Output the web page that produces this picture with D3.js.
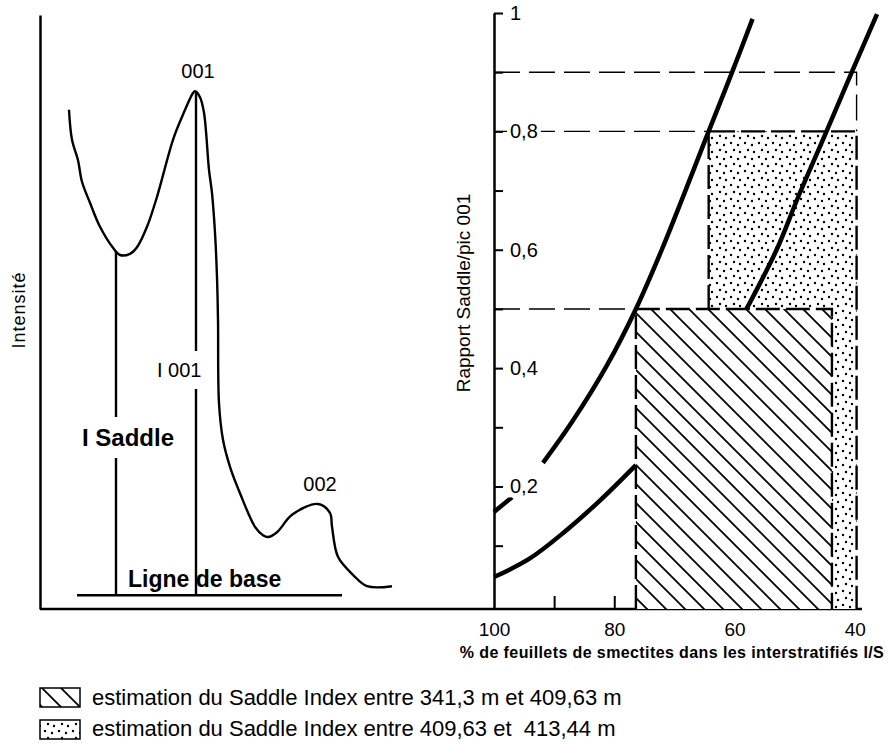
<!DOCTYPE html>
<html>
<head>
<meta charset="utf-8">
<script src="https://cdn.jsdelivr.net/npm/d3@7"></script>
<style>
  body { margin: 0; background: #fff; }
  svg { display: block; font-family: "Liberation Sans", Arial, sans-serif; }
</style>
</head>
<body>
<div id="chart"></div>
<script>
'use strict';

// diffractogramme schematique (panneau gauche), unites arbitraires
var patternPos = [7.25, 8, 9.5, 10.5, 12.5, 15, 18.25, 20, 22.5, 24.25,
                  26.75, 29.25, 33.25, 35.5, 38.25, 38.75, 40, 41, 42.25, 43,
                  43.75, 44.25, 44.5, 44.75, 45.75, 47.5, 50, 53.75, 55.75, 57,
                  59.25, 63, 69.5, 72.5, 73, 74.5, 78.25, 81.75, 88];
var patternInt = [83.2, 78.2, 74.8, 71.2, 67.7, 63.7, 60.2, 59, 59.2, 60.3,
                  63.7, 68.7, 78.2, 82, 86, 86.3, 85.3, 82.7, 73.2, 69.3,
                  62.7, 55.3, 48.2, 34.3, 28.2, 23.7, 19.3, 13.7, 12.3, 12,
                  12.8, 15.7, 17.5, 16, 13.7, 8.7, 5.7, 3.8, 3.8];
var peakNames = ['001', '002'];
var peakPos = [39, 69.5];
var peakInt = [86.3, 17.5];
var saddlePos = 19, saddleInt = 59.5;
var baseFrom = 9.25, baseTo = 75.5, baseInt = 2.3;

// abaque (panneau droit)
var smectiteTicks = [100, 80, 60, 40];
var smectiteMinor = [90, 80];
var ratioTicks = [0.1, 0.2, 0.3, 0.4, 0.5, 0.6, 0.7, 0.8, 0.9, 1];
var curveAx = [100, 97, null, 91.85, 86.9, 81.2, 76.4, 72.1, 64.3, 60.4, 57];
var curveAy = [0.157, 0.182, null, 0.24, 0.311, 0.405, 0.5, 0.6, 0.8, 0.9, 0.99];
var curveBx = [100, 94.1, 88.2, 82.3, 76.4];
var curveBy = [0.047, 0.078, 0.124, 0.177, 0.236];
var curveCx = [58, 53, 49.5, 44.7, 40.5, 36.3];
var curveCy = [0.5, 0.6, 0.687, 0.8, 0.9, 0.998];

// estimations : [hachures, pointilles]
var rangeLabels = ['estimation du Saddle Index entre 341,3 m et 409,63 m',
                   'estimation du Saddle Index entre 409,63 et  413,44 m'];
var rangeFrom = [76.4, 64.3];
var rangeTo = [43.8, 39.7];
var rangeRatio = [0.5, 0.8];
var topRatio = 0.9;

var width = 888, height = 744;

var svg = d3.select('#chart').append('svg')
    .attr('width', width)
    .attr('height', height);

var defs = svg.append('defs');
defs.append('pattern')
    .attr('id', 'hatch')
    .attr('patternUnits', 'userSpaceOnUse')
    .attr('width', 19).attr('height', 19)
  .append('path')
    .attr('d', 'M-2,-2L21,21M-2,17L2,21M17,-2L21,2')
    .attr('stroke', '#000')
    .attr('stroke-width', 1.8);

var dots = defs.append('pattern')
    .attr('id', 'dots')
    .attr('patternUnits', 'userSpaceOnUse')
    .attr('width', 14).attr('height', 14);
dots.append('rect').attr('width', 14).attr('height', 14).attr('fill', '#fff');
[[3, 3], [10, 5], [6, 10], [12, 12]].forEach(function (p) {
  dots.append('circle').attr('cx', p[0]).attr('cy', p[1]).attr('r', 1.2).attr('fill', '#000');
});

var xL = d3.scaleLinear().domain([0, 100]).range([40, 440]);
var yL = d3.scaleLinear().domain([0, 99]).range([609, 15]);
var xR = d3.scaleLinear().domain([100, 38.8]).range([494, 862]);
var yR = d3.scaleLinear().domain([-0.007, 1]).range([609, 13]);
var baseY = yR.range()[0];

function bgRect(sel, px, py) {
  sel.each(function () {
    var node = this, b = node.getBBox();
    d3.select(node.parentNode).insert('rect', function () { return node; })
        .attr('x', b.x - px).attr('y', b.y - py)
        .attr('width', b.width + 2 * px).attr('height', b.height + 2 * py)
        .attr('fill', '#fff');
  });
}

// ---------- panneau gauche ----------
var left = svg.append('g');

left.append('g')
    .attr('transform', 'translate(' + xL(0) + ',0)')
    .call(d3.axisLeft(yL).ticks(0).tickSizeOuter(0))
    .select('.domain').attr('stroke-width', 2.5);

left.append('path')
    .datum(d3.zip(patternPos, patternInt))
    .attr('fill', 'none')
    .attr('stroke', '#000')
    .attr('stroke-width', 2.4)
    .attr('stroke-linejoin', 'round')
    .attr('d', d3.line()
        .x(function (d) { return xL(d[0]); })
        .y(function (d) { return yL(d[1]); })
        .curve(d3.curveCatmullRom.alpha(0.5)));

var vlines = left.append('g')
    .attr('stroke', '#000')
    .attr('stroke-width', 2.4);
vlines.append('line')
    .attr('x1', xL(saddlePos)).attr('x2', xL(saddlePos))
    .attr('y1', yL(saddleInt)).attr('y2', yL(baseInt));
vlines.append('line')
    .attr('x1', xL(peakPos[0])).attr('x2', xL(peakPos[0]))
    .attr('y1', yL(peakInt[0])).attr('y2', yL(baseInt));
vlines.append('line')
    .attr('x1', xL(baseFrom)).attr('x2', xL(baseTo))
    .attr('y1', yL(baseInt)).attr('y2', yL(baseInt));

left.selectAll('.peak')
    .data(peakNames)
  .enter().append('text')
    .attr('class', 'peak')
    .attr('x', function (d, i) { return xL(peakPos[i]) + 2; })
    .attr('y', function (d, i) { return yL(peakInt[i]) - 13; })
    .attr('text-anchor', 'middle')
    .style('font-size', '20px')
    .text(function (d) { return d; });

var lblSaddle = left.append('text')
    .attr('x', 82).attr('y', 446)
    .style('font-size', '24px')
    .style('font-weight', 'bold')
    .text('I Saddle');
bgRect(lblSaddle, 2, 7);

var lbl001 = left.append('text')
    .attr('x', 157).attr('y', 377)
    .style('font-size', '20px')
    .text('I 001');
bgRect(lbl001, 2, 8);

left.append('text')
    .attr('x', 128).attr('y', 587)
    .style('font-size', '23px')
    .style('font-weight', 'bold')
    .text('Ligne de base');

left.append('text')
    .attr('transform', 'translate(19,310) rotate(-90)')
    .attr('text-anchor', 'middle')
    .attr('dy', '0.35em')
    .style('font-size', '18px')
    .style('letter-spacing', '1px')
    .text('Intensité');

// ligne de base commune
svg.append('line')
    .attr('x1', xL(0)).attr('x2', xR.range()[1])
    .attr('y1', baseY).attr('y2', baseY)
    .attr('stroke', '#000')
    .attr('stroke-width', 2.5);

// ---------- panneau droit ----------
var right = svg.append('g');

// zones d'estimation : pointilles d'abord, hachures par-dessus
[1, 0].forEach(function (i) {
  var x0 = xR(rangeFrom[i]), x1 = xR(rangeTo[i]), y0 = yR(rangeRatio[i]);
  var g = right.append('g');
  g.append('rect')
      .attr('x', x0).attr('y', y0)
      .attr('width', x1 - x0).attr('height', baseY - y0)
      .attr('fill', '#fff');
  g.append('rect')
      .attr('x', x0).attr('y', y0)
      .attr('width', x1 - x0).attr('height', baseY - y0)
      .attr('fill', i === 0 ? 'url(#hatch)' : 'url(#dots)');
  g.append('path')
      .attr('d', 'M' + x0 + ',' + baseY + 'V' + y0 + 'H' + x1 + 'V' + baseY)
      .attr('fill', 'none')
      .attr('stroke', '#000')
      .attr('stroke-width', 2.4)
      .attr('stroke-dasharray', '24,6');
});

// lignes de lecture
var guides = right.append('g')
    .attr('fill', 'none')
    .attr('stroke', '#000')
    .attr('stroke-width', 1.4)
    .attr('stroke-dasharray', '26,9');
rangeRatio.forEach(function (r, i) {
  guides.append('path')
      .attr('d', 'M' + xR(100) + ',' + yR(r) + 'H' + xR(rangeFrom[i]));
});
guides.append('path')
    .attr('d', 'M' + xR(100) + ',' + yR(topRatio) + 'H' + xR(rangeTo[1]) + 'V' + yR(rangeRatio[1]));

var curve = d3.line()
    .defined(function (d) { return d[0] != null; })
    .x(function (d) { return xR(d[0]); })
    .y(function (d) { return yR(d[1]); })
    .curve(d3.curveCatmullRom.alpha(0.5));

right.selectAll('.curve')
    .data([d3.zip(curveAx, curveAy), d3.zip(curveBx, curveBy), d3.zip(curveCx, curveCy)])
  .enter().append('path')
    .attr('class', 'curve')
    .attr('fill', 'none')
    .attr('stroke', '#000')
    .attr('stroke-width', 4.5)
    .attr('d', curve);

var fmt = function (d) { return String(Math.round(d * 10) / 10).replace('.', ','); };

var yAxis = right.append('g')
    .attr('transform', 'translate(' + xR(100) + ',0)')
    .call(d3.axisRight(yR)
        .tickValues(ratioTicks)
        .tickSize(9)
        .tickSizeOuter(0)
        .tickPadding(7)
        .tickFormat(function (d) { return Math.round(d * 10) % 2 === 0 ? fmt(d) : ''; }));
yAxis.select('.domain').attr('stroke-width', 2.5);
yAxis.selectAll('.tick line').attr('stroke-width', 2);
yAxis.selectAll('.tick text')
    .style('font-size', '20px')
    .attr('font-family', null);
bgRect(yAxis.selectAll('.tick text').filter(function () { return this.textContent !== ''; }), 3, 0);

var xMinor = right.append('g')
    .attr('transform', 'translate(0,' + baseY + ')')
    .call(d3.axisBottom(xR).tickValues(smectiteMinor).tickSize(-13).tickFormat(''));
xMinor.select('.domain').remove();
xMinor.selectAll('.tick line').attr('stroke-width', 2);

var xAxis = right.append('g')
    .attr('transform', 'translate(0,' + baseY + ')')
    .call(d3.axisBottom(xR).tickValues(smectiteTicks).tickSize(0).tickPadding(14));
xAxis.select('.domain').remove();
xAxis.selectAll('.tick text')
    .style('font-size', '19px')
    .attr('font-family', null);

right.append('text')
    .attr('x', 672).attr('y', 658)
    .attr('text-anchor', 'middle')
    .style('font-size', '16px')
    .style('font-weight', 'bold')
    .style('letter-spacing', '0.4px')
    .text('% de feuillets de smectites dans les interstratifiés I/S');

right.append('text')
    .attr('transform', 'translate(463,293) rotate(-90)')
    .attr('text-anchor', 'middle')
    .attr('dy', '0.35em')
    .style('font-size', '19px')
    .text('Rapport Saddle/pic 001');

// ---------- legende ----------
var legend = svg.append('g');
var rows = legend.selectAll('.row')
    .data(rangeLabels)
  .enter().append('g')
    .attr('class', 'row');
rows.append('rect')
    .attr('x', 40)
    .attr('y', function (d, i) { return 688 + i * 32; })
    .attr('width', 40).attr('height', 19)
    .attr('fill', function (d, i) { return i === 0 ? 'url(#hatch)' : 'url(#dots)'; })
    .attr('stroke', '#000')
    .attr('stroke-width', 1.5);
rows.append('text')
    .attr('x', 92)
    .attr('y', function (d, i) { return 705 + i * 31; })
    .style('font-size', '22px')
    .style('white-space', 'pre')
    .text(function (d) { return d; });
</script>
</body>
</html>
